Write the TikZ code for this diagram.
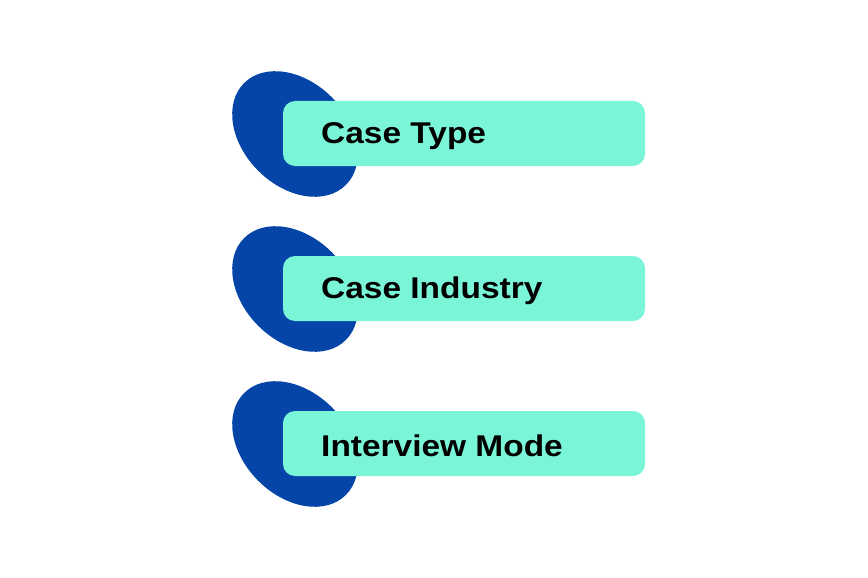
\documentclass[tikz,border=0pt]{standalone}
\usepackage{fontspec}
\setmainfont{Liberation Sans}
\newfontfamily\lblfont[FakeStretch=1.115]{Liberation Sans}
\definecolor{blobblue}{RGB}{5,69,168}
\definecolor{mint}{RGB}{123,245,216}
\tikzset{
  blob/.style={fill=blobblue, draw=none},
  bar/.style={fill=mint, draw=none, rounded corners=12pt},
  lbl/.style={anchor=west, inner sep=0pt, font=\lblfont\fontsize{30}{36}\selectfont\bfseries}
}
\begin{document}
\begin{tikzpicture}[x=1pt,y=-1pt]
\useasboundingbox (0,0) rectangle (868,578);
\foreach \i/\t in {0/Case Type,1/Case Industry,2/Interview Mode}{
  \pgfmathsetmacro{\dy}{155*\i}
  \fill[blob, rotate around={-45:(295,134+\dy)}] (295,134+\dy) ellipse [x radius=72, y radius=52];
  \fill[bar] (283,101+\dy) rectangle (645,166+\dy);
  \node[lbl] (n\i) at (321,136+\dy) {\t};
}
\end{tikzpicture}
\end{document}
